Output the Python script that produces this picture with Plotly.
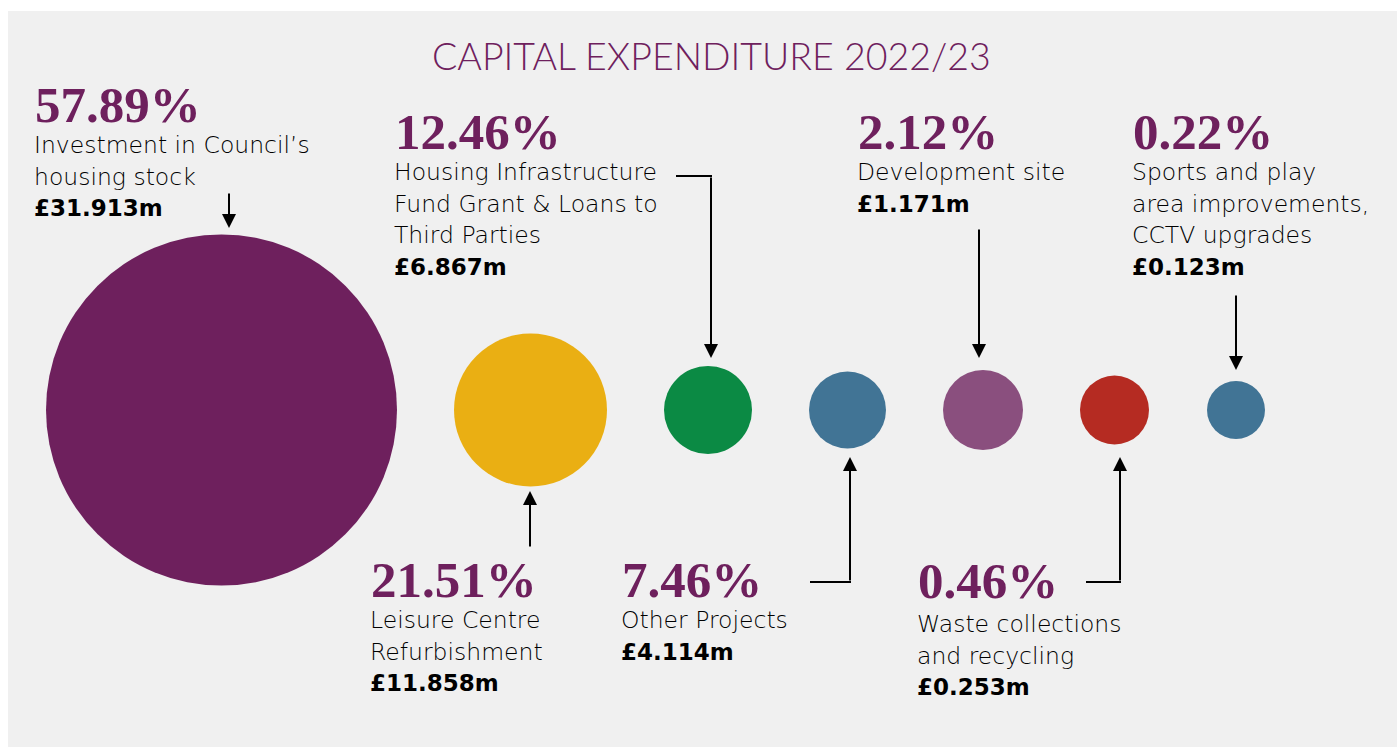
import plotly.graph_objects as go

# data
categories = [
    "Investment in Council’s\nhousing stock",
    "Leisure Centre\nRefurbishment",
    "Housing Infrastructure\nFund Grant & Loans to\nThird Parties",
    "Other Projects",
    "Development site",
    "Waste collections\nand recycling",
    "Sports and play\narea improvements,\nCCTV upgrades",
]
percent = [57.89, 21.51, 12.46, 7.46, 2.12, 0.46, 0.22]
amount_m = [31.913, 11.858, 6.867, 4.114, 1.171, 0.253, 0.123]

# layout (page pixels)
W, H = 1397, 747
circle_x = [221.5, 530.5, 708, 847.5, 983, 1114.5, 1236]
circle_y = 410
circle_d = [351, 153, 88, 77, 80, 69, 58]
colors = ["#6e205d", "#eaaf13", "#0b8a44", "#417495", "#8a4f7e", "#b52b22", "#417495"]

# label block: left x, percent centre y, first text line centre y
label_pos = [
    (35, 105, 145),
    (371, 580, 620),
    (395, 132, 172),
    (622, 580, 620),
    (858, 132, 172),
    (918, 581, 624),
    (1133, 132, 172),
]
LINE = 31.5

# arrows: (tail, tip, optional elbow start)
arrows = [
    ((229, 192), (229, 228), None),
    ((530, 548), (530, 491), None),
    ((711, 176), (711, 358), (676, 176)),
    ((850, 582), (850, 457), (810, 582)),
    ((979, 228), (979, 358), None),
    ((1120, 582), (1120, 457), (1086, 582)),
    ((1236, 294), (1236, 370), None),
]

PURPLE = "#6e205d"
SANS = "DejaVu Sans"
SERIF = "Liberation Serif"

fig = go.Figure()

fig.add_trace(
    go.Scatter(
        x=circle_x,
        y=[circle_y] * len(circle_x),
        mode="markers",
        marker=dict(size=circle_d, color=colors, opacity=1, line=dict(width=0)),
        hoverinfo="skip",
        showlegend=False,
    )
)

# grey panel
fig.add_shape(
    type="rect", x0=8, y0=11, x1=W, y1=H,
    xref="x", yref="y", fillcolor="#f0f0f0", line=dict(width=0), layer="below",
)

annotations = [
    dict(
        x=711, y=55, xref="x", yref="y", text="CAPITAL EXPENDITURE 2022/23",
        showarrow=False, xanchor="center", yanchor="middle",
        font=dict(family="Lato", size=37.5, color=PURPLE, weight=300),
    )
]

for cat, pct, amt, (lx, py, ty) in zip(categories, percent, amount_m, label_pos):
    annotations.append(
        dict(
            x=lx - 2, y=py, xref="x", yref="y", text=f"<b>{pct:.2f}%</b>",
            showarrow=False, xanchor="left", yanchor="middle", height=40,
            font=dict(family=SERIF, size=51, color=PURPLE),
        )
    )
    lines = cat.split("\n")
    for i, line in enumerate(lines):
        annotations.append(
            dict(
                x=lx - 3, y=ty + i * LINE, xref="x", yref="y", text=line,
                showarrow=False, xanchor="left", yanchor="middle",
                font=dict(family=SANS, size=23.5, color="black", weight=300),
            )
        )
    annotations.append(
        dict(
            x=lx - 3, y=ty + len(lines) * LINE, xref="x", yref="y",
            text=f"£{amt:.3f}m",
            showarrow=False, xanchor="left", yanchor="middle",
            font=dict(family=SANS, size=23, color="black", weight=700),
        )
    )

for (tx, ty), (hx, hy), elbow in arrows:
    annotations.append(
        dict(
            x=hx, y=hy, ax=tx, ay=ty, xref="x", yref="y", axref="x", ayref="y",
            text="", showarrow=True, arrowhead=2, arrowsize=1.4, arrowwidth=2,
            arrowcolor="black", standoff=0, startstandoff=0,
        )
    )
    if elbow:
        fig.add_shape(
            type="line", x0=elbow[0], y0=elbow[1], x1=tx + 1, y1=ty,
            xref="x", yref="y", line=dict(color="black", width=2),
        )

fig.update_layout(
    width=W,
    height=H,
    margin=dict(l=0, r=0, t=0, b=0),
    paper_bgcolor="white",
    plot_bgcolor="rgba(0,0,0,0)",
    xaxis=dict(range=[0, W], visible=False, fixedrange=True),
    yaxis=dict(range=[H, 0], visible=False, fixedrange=True),
    annotations=annotations,
    showlegend=False,
)

fig.write_html(
    "out.html",
    config={"displayModeBar": False},
    post_script="document.body.style.margin='0';document.body.style.overflow='hidden';",
)
